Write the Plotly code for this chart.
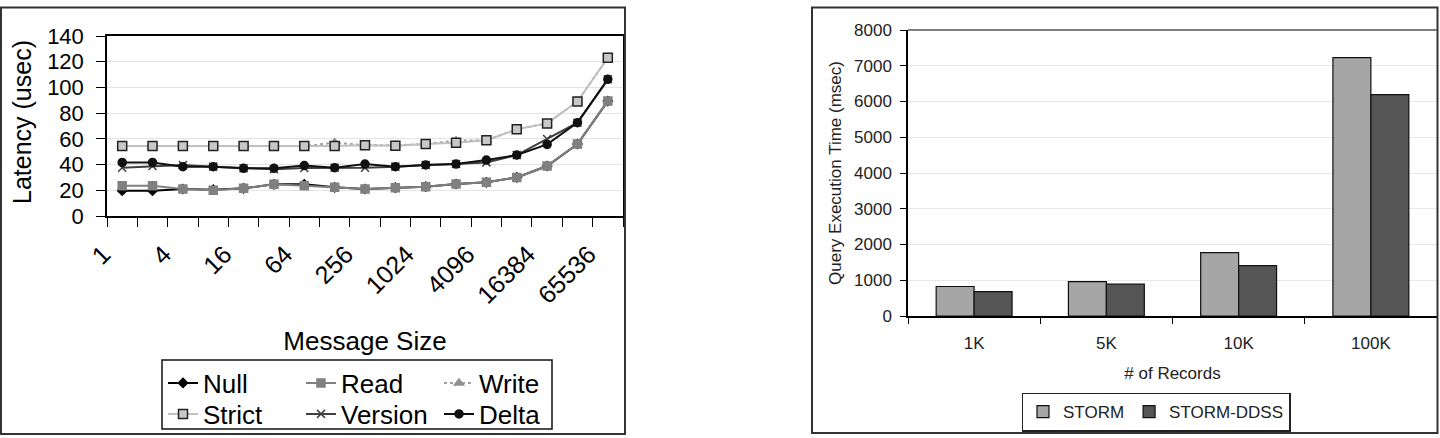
import plotly.graph_objects as go

# ---------------- data ----------------
sizes = ["1", "2", "4", "8", "16", "32", "64", "128", "256", "512", "1024",
         "2048", "4096", "8192", "16384", "32768", "65536"]
size_ticktext = ["1", "", "4", "", "16", "", "64", "", "256", "", "1024",
                 "", "4096", "", "16384", "", "65536"]

null_lat = [19.7, 19.7, 21.0, 20.5, 21.5, 24.6, 24.6, 22.3, 21.0, 22.0, 22.8,
            24.9, 26.2, 30.0, 38.9, 56.0, 89.4]
read_lat = [23.6, 23.6, 21.0, 20.0, 21.5, 24.6, 23.6, 22.3, 21.0, 22.0, 22.8,
            24.9, 26.2, 30.0, 38.9, 56.0, 89.4]
write_lat = [54.4, 54.4, 54.4, 54.4, 54.4, 54.4, 54.4, 57.0, 55.0, 55.0, 56.0,
             58.6, 59.0, 67.4, 72.0, 89.0, 123.1]
strict_lat = [54.4, 54.4, 54.4, 54.4, 54.4, 54.4, 54.4, 54.4, 55.0, 54.7, 56.0,
              57.0, 59.0, 67.4, 72.0, 89.0, 123.1]
version_lat = [37.6, 38.9, 39.7, 38.4, 37.1, 36.3, 37.4, 37.6, 37.6, 38.4, 39.7,
               40.4, 41.7, 47.4, 59.9, 72.6, 106.3]
delta_lat = [41.7, 41.7, 38.4, 38.4, 37.1, 37.1, 39.2, 37.6, 40.4, 38.4, 39.7,
             40.4, 43.5, 47.4, 55.7, 72.6, 106.3]

records = ["1K", "5K", "10K", "100K"]
storm_ms = [825, 960, 1770, 7230]
ddss_ms = [680, 890, 1410, 6190]

W, H = 1440, 438
def px(x): return x / W
def py(y): return 1 - y / H

LFONT = "Liberation Sans, Arial, sans-serif"

fig = go.Figure()

series = [
    ("Null", null_lat, "#000000", "solid", "diamond", 7, "#000000", "#000000", "legend"),
    ("Read", read_lat, "#808080", "solid", "square", 8, "#808080", "#808080", "legend"),
    ("Write", write_lat, "#a0a0a0", "dot", "triangle-up", 8, "#909090", "#909090", "legend"),
    ("Strict", strict_lat, "#c0c0c0", "solid", "square", 9, "#c8c8c8", "#222222", "legend3"),
    ("Version", version_lat, "#404040", "solid", "x-thin-open", 8, "#404040", "#404040", "legend3"),
    ("Delta", delta_lat, "#111111", "solid", "circle", 8, "#111111", "#111111", "legend3"),
]
for name, vals, col, dash, sym, sz, mfill, mline, lg in series:
    fig.add_trace(go.Scatter(
        x=sizes, y=vals, name=name, mode="lines+markers",
        line=dict(color=col, width=2, dash=dash),
        marker=dict(symbol=sym, size=sz, color=mfill,
                    line=dict(color=mline, width=1.5)),
        xaxis="x", yaxis="y", legend=lg))

fig.add_trace(go.Bar(x=records, y=storm_ms, name="STORM", marker=dict(
    color="#a6a6a6", line=dict(color="#111111", width=1.2)),
    xaxis="x2", yaxis="y2", legend="legend2"))
fig.add_trace(go.Bar(x=records, y=ddss_ms, name="STORM-DDSS", marker=dict(
    color="#555555", line=dict(color="#111111", width=1.2)),
    xaxis="x2", yaxis="y2", legend="legend2"))

fig.update_layout(
    width=W, height=H, margin=dict(l=0, r=0, t=0, b=0, autoexpand=False),
    paper_bgcolor="white", plot_bgcolor="white",
    font=dict(family=LFONT, color="#000000"),
    bargap=0.426, bargroupgap=0,
    xaxis=dict(domain=[px(107), px(623)], type="category", automargin=False,
               range=[-0.5, len(sizes) - 0.5], autorange=False,
               tickmode="array", tickvals=sizes, ticktext=size_ticktext,
               tickson="boundaries", ticks="outside", ticklen=9, tickcolor="#000",
               tickangle=-45, tickfont=dict(size=25), ticklabelstandoff=12,
               ticklabelshift=-19,
               showline=True, linecolor="#000", linewidth=1.5, mirror=True,
               showgrid=False, anchor="y",
               title=dict(text="Message Size", font=dict(size=26), standoff=24)),
    yaxis=dict(domain=[py(216), py(36)], range=[0, 140], dtick=20, automargin=False,
               ticks="outside", ticklen=9, tickcolor="#000",
               tickfont=dict(size=22), ticklabelstandoff=8,
               showline=True, linecolor="#000", linewidth=1.5, mirror=True,
               showgrid=True, gridcolor="#e4e4e4", gridwidth=1,
               zeroline=False, anchor="x"),
    xaxis2=dict(domain=[px(908), px(1437)], type="category", automargin=False,
                ticks="outside", ticklen=6, tickcolor="#000", tickson="boundaries",
                tickfont=dict(size=17, color="#222"), ticklabelstandoff=11,
                showline=True, linecolor="#000", linewidth=1.5,
                showgrid=False, anchor="y2",
                title=dict(text="# of Records", font=dict(size=17, color="#222"), standoff=15)),
    yaxis2=dict(domain=[py(316), py(30)], range=[0, 8000], dtick=1000, automargin=False,
                ticks="outside", ticklen=6, tickcolor="#000",
                tickfont=dict(size=17, color="#222"), ticklabelstandoff=5,
                showline=True, linecolor="#000", linewidth=1.5,
                showgrid=True, gridcolor="#e8e8e8", gridwidth=1,
                zeroline=False, anchor="x2",
                title=dict(text="Query Execution Time (msec)", font=dict(size=17, color="#222"), standoff=8)),
    legend=dict(orientation="h", x=px(163), xanchor="left", y=py(383), yanchor="middle",
                font=dict(size=26), entrywidth=93, entrywidthmode="pixels",
                bgcolor="rgba(0,0,0,0)", borderwidth=0, itemwidth=30,
                tracegroupgap=0),
    legend3=dict(orientation="h", x=px(163), xanchor="left", y=py(414), yanchor="middle",
                 font=dict(size=26), entrywidth=93, entrywidthmode="pixels",
                 bgcolor="rgba(0,0,0,0)", borderwidth=0, itemwidth=30,
                 tracegroupgap=0),
    legend2=dict(orientation="h", x=px(1156), xanchor="center", y=py(412), yanchor="middle",
                 font=dict(size=17, color="#222"), bgcolor="white",
                 bordercolor="#222", borderwidth=1.5, itemwidth=30),
    annotations=[
        dict(text="Latency (usec)", xref="paper", yref="paper",
             x=px(22), y=py(122), xanchor="center", yanchor="middle",
             textangle=-90, showarrow=False, font=dict(size=25)),
    ],
    shapes=[
        dict(type="rect", xref="paper", yref="paper", x0=px(1), x1=px(625),
             y0=py(434), y1=py(7.5), line=dict(color="#333", width=2)),
        dict(type="rect", xref="paper", yref="paper", x0=px(812), x1=px(1437.5),
             y0=py(433), y1=py(7.5), line=dict(color="#333", width=2)),
        dict(type="rect", xref="paper", yref="paper", x0=px(162), x1=px(552),
             y0=py(429), y1=py(360), line=dict(color="#111", width=1.5)),
        dict(type="line", xref="paper", yref="paper", x0=px(908), x1=px(1437),
             y0=py(30), y1=py(30), line=dict(color="#555", width=1.5)),
    ],
)

fig.write_html("out.html")
